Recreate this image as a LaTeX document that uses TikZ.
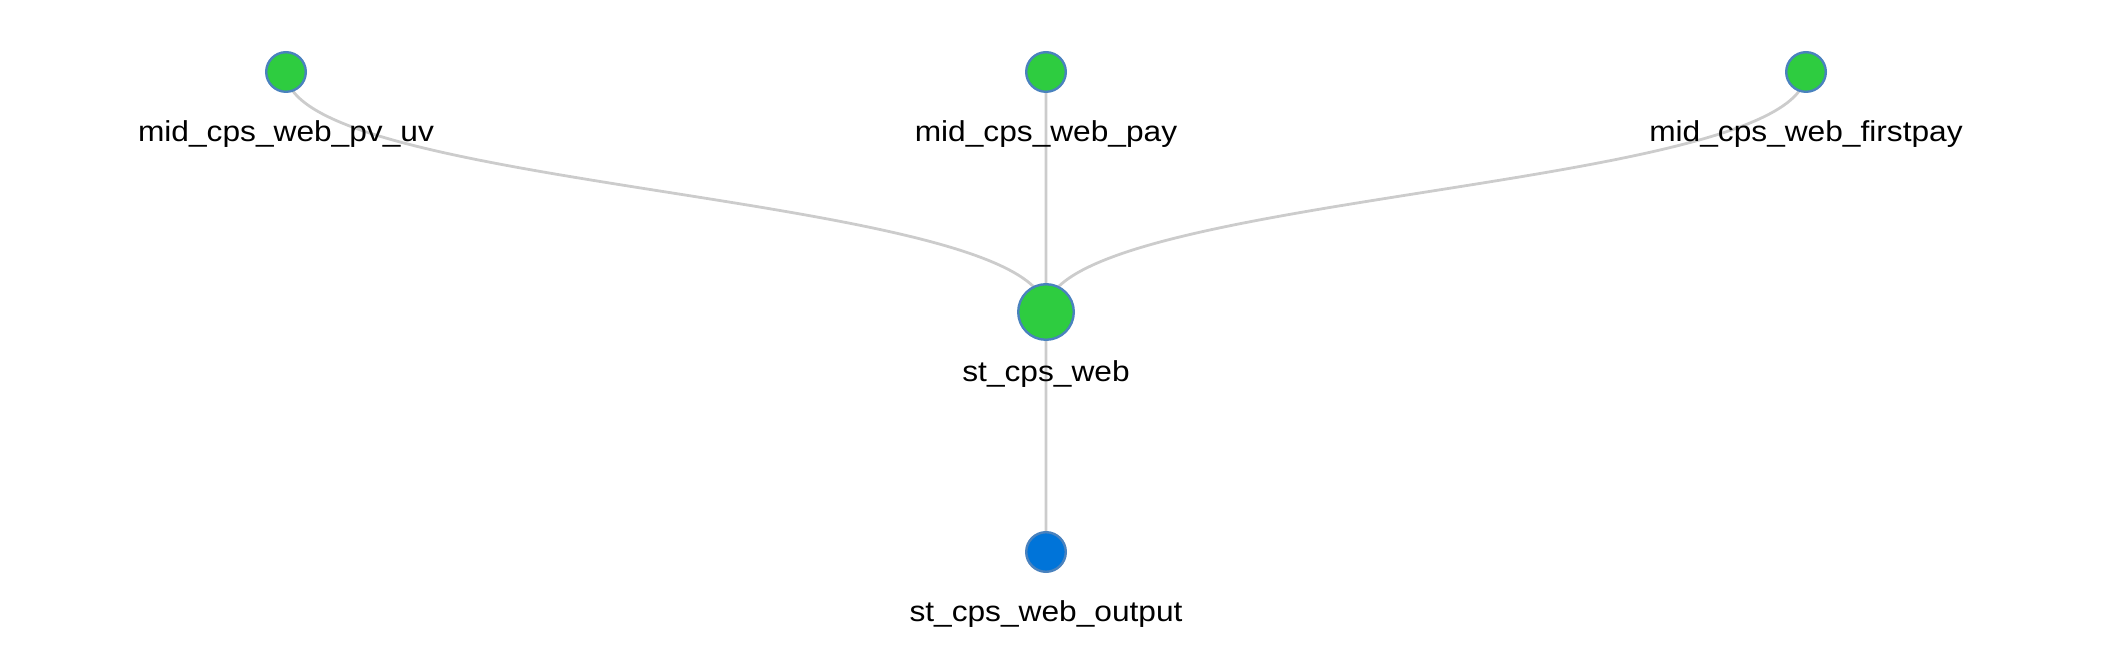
\documentclass[tikz,border=0pt]{standalone}
\usepackage{fontspec}
\setmainfont{Liberation Sans}[FakeStretch=1.1]
\usetikzlibrary{backgrounds}
\definecolor{nodegreen}{RGB}{46,204,64}
\definecolor{nodeblue}{RGB}{0,116,217}
\definecolor{rimblue}{RGB}{74,130,190}
\definecolor{edgegray}{RGB}{204,204,204}
\begin{document}
\begin{tikzpicture}[x=0.5pt, y=0.5pt,
		main/.style = {draw=rimblue, line width=1.2pt, circle, fill=nodegreen, inner sep=0pt, minimum size=19.8pt},
		hub/.style = {main, minimum size=27.8pt},
		sink/.style = {main, fill=nodeblue},
		lbl/.style = {anchor=base, inner sep=0pt, font=\fontsize{14.4pt}{16pt}\selectfont},
		edge/.style = {draw=edgegray, line width=1.4pt}]
				\useasboundingbox (0,0) rectangle (2120,664);

				\node[main] (pvuv) at (286,592) {};
				\node[main] (pay) at (1046,592) {};
				\node[main] (firstpay) at (1806,592) {};
				\node[hub] (web) at (1046,352) {};
				\node[sink] (output) at (1046,112) {};

				\node[lbl] (pvuvlbl) at (286,522) {mid\_cps\_web\_pv\_uv};
				\node[lbl] (paylbl) at (1046,522) {mid\_cps\_web\_pay};
				\node[lbl] (firstpaylbl) at (1806,522) {mid\_cps\_web\_firstpay};
				\node[lbl] (weblbl) at (1046,282) {st\_cps\_web};
				\node[lbl] (outputlbl) at (1046,42) {st\_cps\_web\_output};

				\begin{scope}[on background layer]
				\draw[edge] (pvuv.center) .. controls +(0,-120) and +(0,120) .. (web.center)
				(firstpay.center) .. controls +(0,-120) and +(0,120) .. (web.center)
				(pay.center) to (web.center)
				(web.center) to (output.center);
				\end{scope}

			\end{tikzpicture}
\end{document}
